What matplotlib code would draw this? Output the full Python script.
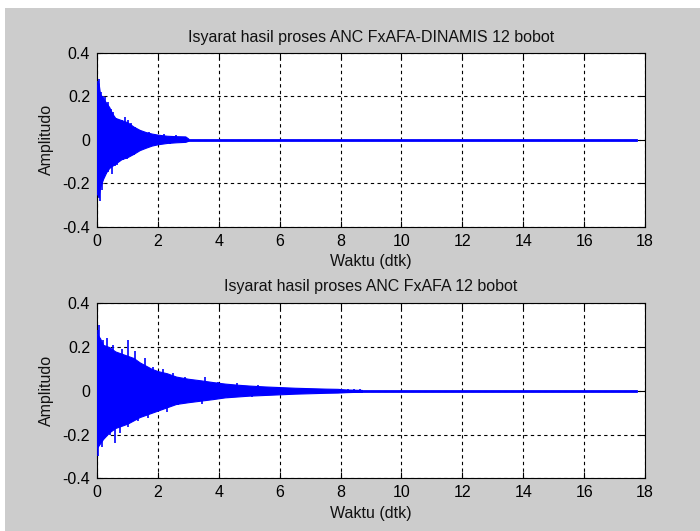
import matplotlib
matplotlib.use("Agg")
import matplotlib.pyplot as plt
from matplotlib.patches import Rectangle

plt.rcParams['font.family'] = ['Liberation Sans', 'DejaVu Sans']

# FxAFA-DINAMIS output: base envelope (upper / lower)
t_dyn = [0.0, 0.05, 0.1, 0.2, 0.3, 0.4, 0.5, 0.6, 0.8, 1.0, 1.2, 1.4, 1.6,
         1.8, 2.0, 2.3, 2.6, 2.9, 3.0]
up_dyn = [0.25, 0.26, 0.21, 0.19, 0.17, 0.15, 0.12, 0.1, 0.09, 0.08, 0.06,
          0.045, 0.035, 0.028, 0.023, 0.018, 0.016, 0.015, 0.005]
lo_dyn = [-0.25, -0.26, -0.22, -0.18, -0.15, -0.13, -0.12, -0.11, -0.09,
          -0.08, -0.065, -0.048, -0.037, -0.027, -0.021, -0.015, -0.012,
          -0.01, -0.005]
# isolated peaks sticking out of the envelope
pk_t_dyn = [0.04, 0.07, 0.12, 0.18, 0.26, 0.33, 0.37, 0.45, 0.53, 0.62, 0.7,
            0.82, 0.92, 1.03, 1.12, 1.25, 1.4, 1.7, 2.2, 2.6]
pk_hi_dyn = [0.27, 0.28, 0.22, 0.2, 0.197, 0.16, 0.174, 0.14, 0.128, 0.1,
             0.097, 0.09, 0.105, 0.09, 0.075, 0.06, 0.045, 0.035, 0.025, 0.02]
tr_t_dyn = [0.05, 0.1, 0.15, 0.2, 0.28, 0.35, 0.43, 0.5, 0.58, 0.65, 0.75,
            0.85, 0.97, 1.1, 1.2, 1.36, 1.5, 1.8, 2.4]
tr_lo_dyn = [-0.27, -0.28, -0.23, -0.17, -0.16, -0.15, -0.13, -0.16, -0.12,
             -0.117, -0.1, -0.095, -0.087, -0.075, -0.07, -0.048, -0.04,
             -0.03, -0.018]

# FxAFA output
t_fx = [0.0, 0.1, 0.2, 0.4, 0.6, 0.8, 1.0, 1.2, 1.4, 1.6, 1.8, 2.0, 2.3, 2.6,
        3.0, 3.4, 3.8, 4.2, 4.6, 5.0, 5.5, 6.0, 6.5, 7.0, 7.5, 7.9, 8.2, 8.7]
up_fx = [0.26, 0.24, 0.21, 0.2, 0.18, 0.17, 0.16, 0.15, 0.13, 0.115, 0.1,
         0.09, 0.08, 0.065, 0.055, 0.048, 0.04, 0.033, 0.028, 0.024, 0.02,
         0.017, 0.014, 0.012, 0.01, 0.009, 0.006, 0.004]
lo_fx = [-0.26, -0.24, -0.22, -0.19, -0.17, -0.16, -0.15, -0.135, -0.12,
         -0.11, -0.1, -0.09, -0.075, -0.06, -0.052, -0.045, -0.038, -0.03,
         -0.026, -0.022, -0.019, -0.016, -0.013, -0.011, -0.009, -0.008,
         -0.006, -0.004]
pk_t_fx = [0.03, 0.07, 0.21, 0.32, 0.54, 0.81, 1.03, 1.25, 1.58, 1.85, 2.18,
           2.51, 2.89, 3.55, 3.99, 4.6, 5.3, 8.25, 8.45, 8.65]
pk_hi_fx = [0.28, 0.30, 0.23, 0.24, 0.21, 0.19, 0.23, 0.18, 0.15, 0.11, 0.10,
            0.08, 0.064, 0.064, 0.04, 0.035, 0.028, 0.01, 0.008, 0.01]
tr_t_fx = [0.04, 0.15, 0.43, 0.59, 0.76, 1.03, 1.36, 1.69, 2.29, 2.67, 3.44,
           4.3, 5.1, 8.3, 8.7]
tr_lo_fx = [-0.30, -0.255, -0.2, -0.24, -0.195, -0.165, -0.14, -0.126,
            -0.096, -0.065, -0.058, -0.035, -0.027, -0.01, -0.008]

t_end = 17.7
titles = ["Isyarat hasil proses ANC FxAFA-DINAMIS 12 bobot",
          "Isyarat hasil proses ANC FxAFA 12 bobot"]
xticks = [0, 2, 4, 6, 8, 10, 12, 14, 16, 18]
yticks = [-0.4, -0.2, 0, 0.2, 0.4]
ytick_labels = ["-0.4", "-0.2", "0", "0.2", "0.4"]

fig = plt.figure(figsize=(7.0, 5.31), dpi=100, facecolor='white')
fig.patches.append(Rectangle((5 / 700, 0), 1, 1 - 8 / 531, transform=fig.transFigure,
                             facecolor='#cccccc', edgecolor='none', zorder=-10))

ax1 = fig.add_axes([0.1386, 0.5731, 0.7829, 0.3277])
ax2 = fig.add_axes([0.1386, 0.0992, 0.7829, 0.3296])

panels = [
    (ax1, t_dyn, up_dyn, lo_dyn, pk_t_dyn, pk_hi_dyn, tr_t_dyn, tr_lo_dyn, titles[0], 8),
    (ax2, t_fx, up_fx, lo_fx, pk_t_fx, pk_hi_fx, tr_t_fx, tr_lo_fx, titles[1], 9),
]
for ax, t, up, lo, pt, ph, tt, tl, title, tpad in panels:
    ax.set_facecolor('white')
    ax.fill_between(t, lo, up, color='#0000ff', linewidth=0.8, edgecolor='#0000ff', zorder=3)
    ax.vlines(pt, 0, ph, color='#0000ff', linewidth=1.2, zorder=3)
    ax.vlines(tt, tl, 0, color='#0000ff', linewidth=1.2, zorder=3)
    ax.plot([0, t_end], [0, 0], color='#0000ff', linewidth=2, zorder=3)
    ax.set_xlim(0, 18)
    ax.set_ylim(-0.4, 0.4)
    ax.set_xticks(xticks)
    ax.set_yticks(yticks)
    ax.set_yticklabels(ytick_labels)
    ax.grid(True, color='black', linestyle=(0, (3, 3)), linewidth=0.8, zorder=1)
    ax.set_axisbelow(True)
    ax.tick_params(direction='in', length=4, top=True, right=True,
                   labelsize=11.5, colors='black', pad=5)
    for sp in ax.spines.values():
        sp.set_linewidth(0.8)
        sp.set_color('black')
    ax.set_title(title, fontsize=11.5, pad=tpad, color='#111111')
    ax.set_xlabel("Waktu (dtk)", fontsize=11.5, labelpad=4, color='#111111')
    ax.set_ylabel("Amplitudo", fontsize=11.5, labelpad=6, color='#111111')

fig.savefig("out.png", dpi=100, facecolor=fig.get_facecolor())
